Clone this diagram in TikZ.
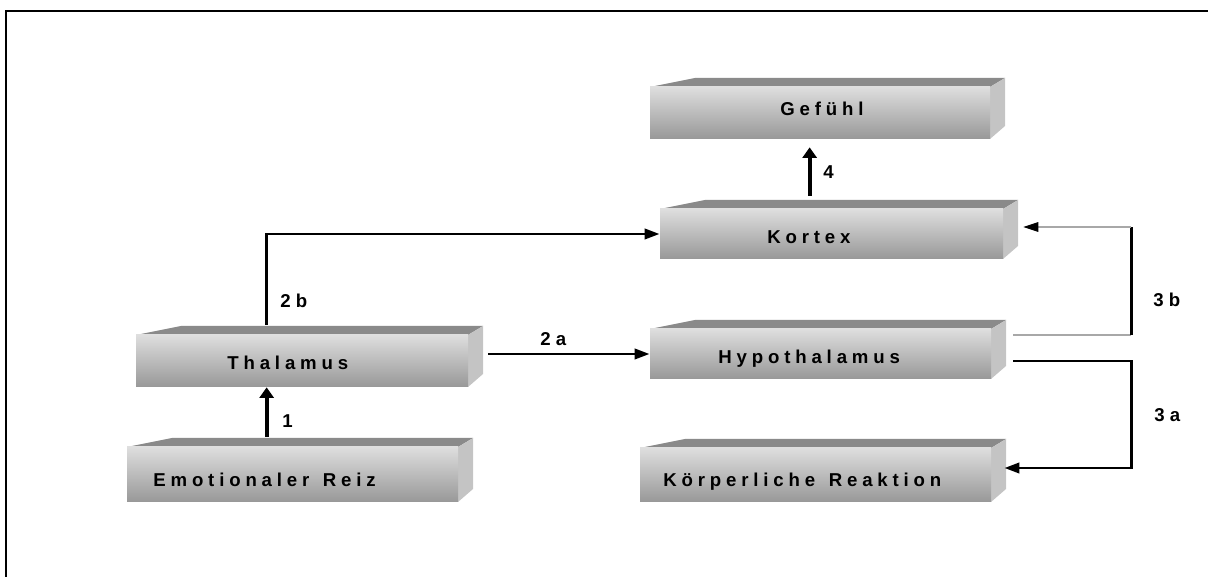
\documentclass[tikz,border=0pt]{standalone}
\usepackage{fontspec}
\setmainfont{Liberation Sans}
\newfontfamily\quaderfont[LetterSpace=26]{Liberation Sans}
\usetikzlibrary{arrows.meta,calc,fit}

\definecolor{deckel}{HTML}{8A8A8A}
\definecolor{seite}{HTML}{C4C4C4}
\definecolor{hell}{HTML}{DEDEDE}
\definecolor{dunkel}{HTML}{989898}
\definecolor{duenn}{HTML}{A8A8A8}

\tikzset{
  pfeil/.style={line width=1.7pt, -{Triangle[length=8.5pt,width=5.8pt]}},
  pfeildick/.style={line width=2.3pt, -{Triangle[length=6pt,width=8pt]}},
  linie/.style={line width=0.6pt, draw=duenn},
  quadertext/.style={anchor=base west, inner sep=0pt,
    font=\quaderfont\bfseries\fontsize{10.6}{12}\selectfont},
  zahl/.style={anchor=base west, inner sep=0pt,
    font=\bfseries\fontsize{10.6}{12}\selectfont},
}

% #1 name, #2 links, #3 oben, #4 rechts, #5 unten
\newcommand{\quader}[5]{%
  \fill[deckel] (#2,#3) -- (#2+45,#3-9) -- (#4+15,#3-9) -- (#4,#3) -- cycle;
  \fill[seite] (#4,#3) -- (#4+15,#3-9) -- (#4+15,#5-13) -- (#4,#5) -- cycle;
  \shade[top color=hell, bottom color=dunkel] (#2,#3) rectangle (#4,#5);
  \path (#2,#3) coordinate (#1-nw) (#4,#5) coordinate (#1-se);
  \node[fit=(#1-nw)(#1-se), inner sep=0pt] (#1) {};
}
\newcommand{\wort}{\hspace{2pt}}

\begin{document}
\begin{tikzpicture}[x=0.02cm,y=-0.02cm]
\useasboundingbox (0,0) rectangle (1208,577);
% Rahmen
\draw[line width=1.2pt] (6,577) -- (6,11) -- (1208,11);

% Quader
\quader{gefuehl}{650}{87}{990}{139}
\quader{kortex}{660}{209}{1003}{259}
\quader{thal}{136}{335}{468}{387}
\quader{hypo}{650}{329}{991}{379}
\quader{reiz}{127}{447}{458}{502}
\quader{koerper}{640}{448}{991}{502}

\node[quadertext] (t-gefuehl) at (780,116) {Gefühl};
\node[quadertext] (t-kortex) at (767,244) {Kortex};
\node[quadertext] (t-thal) at (227,370) {Thalamus};
\node[quadertext] (t-hypo) at (718,364) {Hypothalamus};
\node[quadertext] (t-reiz) at (153,487) {Emotionaler \wort Reiz};
\node[quadertext] (t-koerper) at (663,487) {Körperliche \wort Reaktion};

% Pfeile
\draw[pfeildick] ($(reiz.north west)+(140,-10)$) -- ($(thal.south west)+(131,0)$);
\draw[pfeildick] ($(kortex.north west)+(150,-13)$) -- ($(gefuehl.south west)+(160,8)$);
\draw[pfeil] ($(thal.north west)+(131,-10)$) |- (kortex.west);
\draw[pfeil] ($(hypo.west -| thal.east)+(20,0)$) -- (hypo.west);
\draw[pfeil] ($(hypo.east)+(22,7)$) -- ++(118,0) |- ($(koerper.east)+(13,-7)$);

% 3b
\coordinate (knick) at ($(hypo.east)+(140,-19)$);
\draw[linie] ($(hypo.east)+(22,-19)$) -- (knick);
\draw[line width=1.7pt] (knick) -- ++(0,-108) coordinate (knick2);
\draw[linie, -{Triangle[length=8.5pt,width=5.5pt,black]}] (knick2) -- ($(kortex.east)+(20,-7)$);

% Beschriftung
\node[zahl] (n1) at (282,428) {1};
\node[zahl] (n4) at (823,179) {4};
\node[zahl] (n2b) at (280,308) {2 b};
\node[zahl] (n2a) at (540,346) {2 a};
\node[zahl] (n3a) at (1154,422) {3 a};
\node[zahl] (n3b) at (1153,307) {3 b};
\end{tikzpicture}
\end{document}
